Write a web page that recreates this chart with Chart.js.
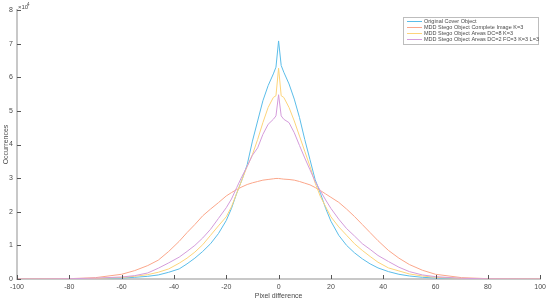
<!DOCTYPE html>
<html>
<head>
<meta charset="utf-8">
<script src="https://cdn.jsdelivr.net/npm/chart.js@4.4.1/dist/chart.umd.min.js"></script>
<style>
  html, body { margin: 0; padding: 0; background: #fff; }
  #wrap { width: 550px; height: 301px; }
</style>
</head>
<body>
<div id="wrap"><canvas id="canvas" width="550" height="301"></canvas></div>
<script>
// pixel difference (x) and occurrences in units of 10^4
const diffs = [-100,-90,-80,-70,-60,-55,-50,-46,-42,-38,-35,-32,-29,-26,-23,-20,-18,-16,-14,-12,-10,-8,-6,-4,-2,-1,0,1,2,4,6,8,10,12,14,16,18,20,23,26,29,32,35,38,42,46,50,55,60,70,80,90,100];

const original = [0,0.001,0.003,0.01,0.03,0.05,0.08,0.12,0.2,0.3,0.45,0.62,0.82,1.05,1.35,1.74,2.1,2.55,2.95,3.4,4.1,4.7,5.3,5.75,6.1,6.3,7.08,6.35,6.15,5.8,5.35,4.8,4.15,3.55,2.95,2.55,2.1,1.72,1.3,1.0,0.78,0.6,0.45,0.33,0.22,0.14,0.09,0.05,0.03,0.01,0.003,0.001,0];
const complete = [0,0.003,0.01,0.04,0.14,0.25,0.4,0.56,0.82,1.12,1.38,1.62,1.88,2.08,2.27,2.47,2.57,2.66,2.74,2.81,2.86,2.9,2.94,2.96,2.98,2.99,2.99,2.98,2.97,2.96,2.94,2.9,2.85,2.8,2.72,2.63,2.53,2.43,2.28,2.08,1.86,1.62,1.38,1.14,0.85,0.62,0.43,0.26,0.14,0.04,0.01,0.003,0];
const areasDc8 = [0,0.001,0.005,0.015,0.045,0.08,0.13,0.2,0.3,0.47,0.62,0.8,1.02,1.3,1.58,1.85,2.15,2.55,2.95,3.35,3.7,4.15,4.65,5.1,5.4,5.45,6.27,5.45,5.4,5.1,4.7,4.25,3.8,3.35,2.85,2.45,2.15,1.85,1.55,1.3,1.05,0.85,0.67,0.5,0.33,0.24,0.15,0.09,0.05,0.015,0.005,0.001,0];
const areasDc2 = [0,0.002,0.008,0.025,0.06,0.1,0.18,0.32,0.48,0.65,0.82,1.0,1.22,1.48,1.8,2.12,2.38,2.72,3.05,3.35,3.68,3.9,4.3,4.6,4.75,4.85,5.48,4.85,4.75,4.65,4.35,3.97,3.6,3.25,2.9,2.62,2.35,2.1,1.78,1.5,1.28,1.05,0.88,0.7,0.52,0.35,0.22,0.12,0.07,0.02,0.006,0.002,0];

const seriesNames = [
  "Original Cover Object",
  "MDD Stego Object Complete Image K=3",
  "MDD Stego Object Areas DC=8 K=3",
  "MDD Stego Object Areas DC=2 FC=3 K=3 L=3"
];
const seriesColors = ["#5bbde9", "#fba68a", "#fdd47a", "#d49cdb"];
const xTicks = [-100,-80,-60,-40,-20,0,20,40,60,80,100];
const yTicks = [0,1,2,3,4,5,6,7,8];

const FONT = "'Liberation Sans', Arial, sans-serif";
const TXT = "#4a4a4a";

function pts(vals) {
  return diffs.map((d, i) => ({ x: d, y: vals[i] }));
}

const allSeries = [original, complete, areasDc8, areasDc2];
const datasets = allSeries.map((vals, i) => ({
  label: seriesNames[i],
  data: pts(vals),
  borderColor: seriesColors[i],
  borderWidth: 1,
  pointRadius: 0,
  fill: false,
  tension: 0,
  order: 4 - i
}));

// inward ticks, 10^4 label and boxed legend like the original figure
const decor = {
  id: "decor",
  afterDatasetsDraw(chart) {
    const ctx = chart.ctx;
    const xs = chart.scales.x, ys = chart.scales.y;
    const a = chart.chartArea;
    ctx.save();
    ctx.strokeStyle = "#555";
    ctx.lineWidth = 1;
    ctx.beginPath();
    xTicks.forEach(t => {
      const px = Math.round(xs.getPixelForValue(t)) + 0.5;
      ctx.moveTo(px, a.bottom);
      ctx.lineTo(px, a.bottom - 4);
    });
    yTicks.forEach(t => {
      const py = Math.round(ys.getPixelForValue(t)) + 0.5;
      ctx.moveTo(a.left, py);
      ctx.lineTo(a.left + 4, py);
    });
    ctx.stroke();

    // exponent
    ctx.fillStyle = TXT;
    ctx.font = "6px " + FONT;
    ctx.textBaseline = "alphabetic";
    ctx.fillText("\u00d710", a.left + 1, 9);
    ctx.font = "4.5px " + FONT;
    ctx.fillText("4", a.left + 10, 6);

    // legend
    const lx = 403, ly = 17, lw = 135, lh = 27;
    ctx.fillStyle = "#fff";
    ctx.fillRect(lx, ly, lw, lh);
    ctx.strokeStyle = "#bdbdbd";
    ctx.strokeRect(lx + 0.5, ly + 0.5, lw, lh);
    ctx.font = "5.5px " + FONT;
    ctx.textBaseline = "middle";
    seriesNames.forEach((name, i) => {
      const ry = ly + 4.5 + i * 6;
      ctx.strokeStyle = seriesColors[i];
      ctx.beginPath();
      ctx.moveTo(lx + 4, ry);
      ctx.lineTo(lx + 19, ry);
      ctx.stroke();
      ctx.fillStyle = TXT;
      ctx.fillText(name, lx + 21, ry);
    });
    ctx.restore();
  }
};

new Chart(document.getElementById("canvas"), {
  type: "line",
  data: { datasets },
  options: {
    responsive: false,
    animation: false,
    layout: { padding: { top: 10, right: 9, left: 0, bottom: 0 } },
    plugins: {
      legend: { display: false },
      tooltip: { enabled: false }
    },
    scales: {
      x: {
        type: "linear",
        min: -100,
        max: 100,
        afterBuildTicks(scale) { scale.ticks = xTicks.map(v => ({ value: v })); },
        afterFit(scale) { scale.height = 22; },
        grid: { display: false, drawTicks: false },
        border: { color: "#c8c8c8", width: 2 },
        ticks: { color: TXT, font: { size: 7, family: FONT }, padding: 4, maxRotation: 0 },
        title: { display: true, text: "Pixel difference", color: TXT, font: { size: 7, family: FONT }, padding: { top: 0, bottom: 1 } }
      },
      y: {
        type: "linear",
        min: 0,
        max: 8,
        afterBuildTicks(scale) { scale.ticks = yTicks.map(v => ({ value: v })); },
        afterFit(scale) { scale.width = 17; },
        grid: { display: false, drawTicks: false },
        border: { color: "#c8c8c8", width: 2 },
        ticks: { color: TXT, font: { size: 7, family: FONT }, padding: 4 },
        title: { display: true, text: "Occurrences", color: TXT, font: { size: 7, family: FONT }, padding: { top: 2, bottom: 0 } }
      }
    }
  },
  plugins: [decor]
});
</script>
</body>
</html>
